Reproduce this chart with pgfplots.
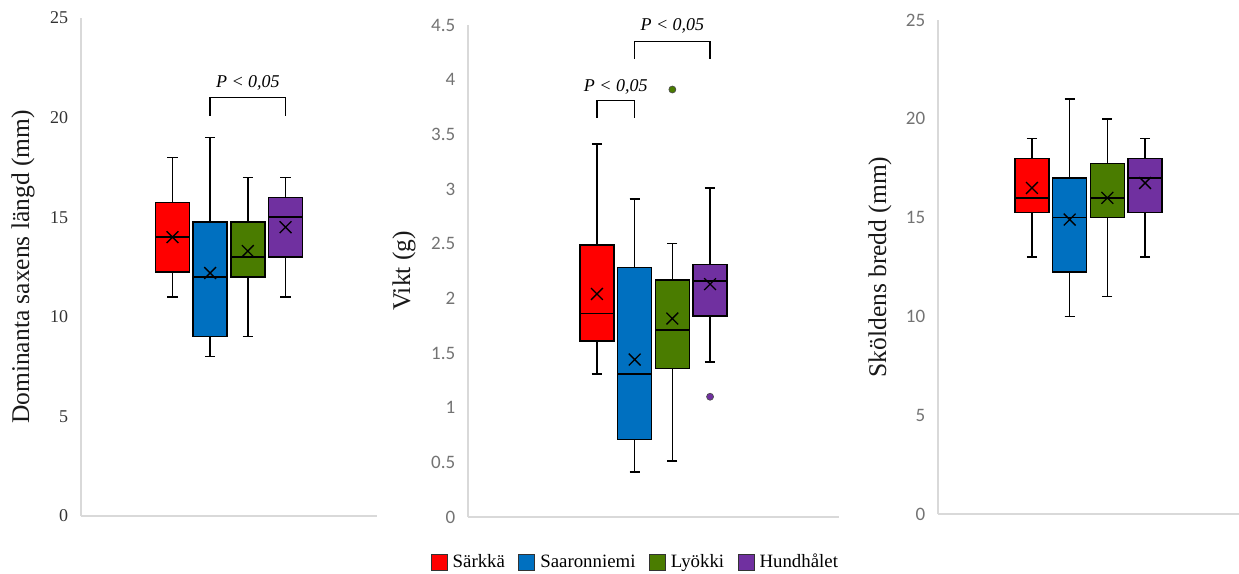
\documentclass[border=0pt]{standalone}
\usepackage{fontspec}
\setmainfont{Liberation Serif}
\newfontfamily\carlito{Carlito}
\usepackage{pgfplots}
\pgfplotsset{compat=1.18}
\usepgfplotslibrary{statistics}
\definecolor{cR}{HTML}{FF0000}
\definecolor{cB}{HTML}{0070C0}
\definecolor{cG}{HTML}{4A7C00}
\definecolor{cP}{HTML}{7030A0}
\definecolor{axl}{HTML}{D9D9D9}
\pgfplotsset{
 mybase/.style={
  scale only axis, anchor=south west,
  axis lines=left, axis line style={-, draw=axl, line width=0.9pt},
  xtick=\empty, major tick length=0pt,
  clip=false,
  boxplot/draw direction=y,
  boxplot/box extend=0.9, boxplot/whisker extend=0.27,
  every axis y label/.style={rotate=90, anchor=center, font=\fontsize{15.3pt}{16pt}\selectfont, text=black!90},
  yticklabel style={anchor=east, inner sep=0pt, xshift=-7.5pt},
  /pgf/number format/assume math mode=true,
 },
 bx/.style={draw=black, line width=0.9pt, fill=#1, solid},
 mn/.style={only marks, mark=x, mark size=5pt, line width=0.8pt, black, forget plot},
 br/.style={black, line width=0.9pt, forget plot},
}
\newcommand{\ptxt}{\itshape\fontsize{10.8pt}{12pt}\selectfont}
\begin{document}
\begin{tikzpicture}
% ---------- Panel 1
\begin{axis}[mybase, at={(48.6pt,34.2pt)}, width=177.6pt, height=298.8pt,
  xmin=-1.425, xmax=6.425, ymin=0, ymax=25, ytick={0,5,...,25},
  yticklabel style={text=black!80, font=\fontsize{10.8pt}{12pt}\selectfont},
  ylabel={Dominanta saxens längd (mm)},
  ylabel style={at={(axis description cs:-0.196,0.5)}}]
\addplot[bx=cR, forget plot, boxplot prepared={draw position=1, lower whisker=11, lower quartile=12.25, median=14, upper quartile=15.75, upper whisker=18}] coordinates {};
\addplot[bx=cB, forget plot, boxplot prepared={draw position=2, lower whisker=8, lower quartile=9, median=12, upper quartile=14.75, upper whisker=19}] coordinates {};
\addplot[bx=cG, forget plot, boxplot prepared={draw position=3, lower whisker=9, lower quartile=12, median=13, upper quartile=14.75, upper whisker=17}] coordinates {};
\addplot[bx=cP, forget plot, boxplot prepared={draw position=4, lower whisker=11, lower quartile=13, median=15, upper quartile=16, upper whisker=17}] coordinates {};
\addplot[mn] coordinates {(1,14) (2,12.2) (3,13.3) (4,14.5)};
\addplot[br] coordinates {(2,20.1) (2,21) (4,21) (4,20.1)};
\node[font=\ptxt] at (axis cs:3,21.75) {P < 0,05};
\end{axis}
% ---------- Panel 2
\begin{axis}[mybase, at={(280.8pt,33.6pt)}, width=222.6pt, height=295.2pt,
  xmin=-2.42, xmax=7.42, ymin=0, ymax=4.5, ytick={0,0.5,...,4.5},
  yticklabel style={text=black!55, font=\carlito\fontsize{11.4pt}{12pt}\selectfont},
  ylabel={Vikt (g)},
  ylabel style={at={(axis description cs:-0.1725,0.5)}},
  legend image code/.code={\draw[#1] (0pt,-4.8pt) rectangle (9.6pt,4.8pt);},
  legend style={draw=none, fill=none, legend columns=4, at={(0.4528,-0.0915)}, anchor=center,
    font=\rmfamily\fontsize{11.3pt}{12pt}\selectfont,
    /tikz/every odd column/.append style={column sep=1pt},
    /tikz/every even column/.append style={column sep=6pt}},
  legend cell align=left]
\addplot[bx=cR, forget plot, boxplot prepared={draw position=1, lower whisker=1.31, lower quartile=1.61, median=1.86, upper quartile=2.49, upper whisker=3.41}] coordinates {};
\addplot[bx=cB, forget plot, boxplot prepared={draw position=2, lower whisker=0.41, lower quartile=0.71, median=1.31, upper quartile=2.28, upper whisker=2.91}] coordinates {};
\addplot[bx=cG, forget plot, boxplot prepared={draw position=3, lower whisker=0.51, lower quartile=1.36, median=1.71, upper quartile=2.17, upper whisker=2.50}] coordinates {};
\addplot[bx=cP, forget plot, boxplot prepared={draw position=4, lower whisker=1.42, lower quartile=1.84, median=2.16, upper quartile=2.31, upper whisker=3.01}] coordinates {};
\addplot[mn] coordinates {(1,2.04) (2,1.44) (3,1.815) (4,2.13)};
\addplot[only marks, mark=*, mark size=2.1pt, draw=black!70, fill=cG, forget plot] coordinates {(3,3.91)};
\addplot[only marks, mark=*, mark size=2.1pt, draw=black!70, fill=cP, forget plot] coordinates {(4,1.10)};
\addplot[br] coordinates {(1,3.65) (1,3.81) (2,3.81) (2,3.65)};
\addplot[br] coordinates {(2,4.19) (2,4.35) (4,4.35) (4,4.19)};
\node[font=\ptxt] at (axis cs:1.5,3.93) {P < 0,05};
\node[font=\ptxt] at (axis cs:3,4.49) {P < 0,05};
\addlegendimage{fill=cR, draw=black!80, line width=0.6pt}
\addlegendentry{Särkkä}
\addlegendimage{fill=cB, draw=black!80, line width=0.6pt}
\addlegendentry{Saaronniemi}
\addlegendimage{fill=cG, draw=black!80, line width=0.6pt}
\addlegendentry{Lyökki}
\addlegendimage{fill=cP, draw=black!80, line width=0.6pt}
\addlegendentry{Hundhålet}
\end{axis}
% ---------- Panel 3
\begin{axis}[mybase, at={(562.8pt,35.4pt)}, width=180.6pt, height=296.4pt,
  xmin=-1.49, xmax=6.49, ymin=0, ymax=25, ytick={0,5,...,25},
  yticklabel style={text=black!55, font=\carlito\fontsize{11.4pt}{12pt}\selectfont},
  ylabel={Sköldens bredd (mm)},
  ylabel style={at={(axis description cs:-0.193,0.5)}}]
\addplot[bx=cR, forget plot, boxplot prepared={draw position=1, lower whisker=13, lower quartile=15.25, median=16, upper quartile=18, upper whisker=19}] coordinates {};
\addplot[bx=cB, forget plot, boxplot prepared={draw position=2, lower whisker=10, lower quartile=12.25, median=15, upper quartile=17, upper whisker=21}] coordinates {};
\addplot[bx=cG, forget plot, boxplot prepared={draw position=3, lower whisker=11, lower quartile=15, median=16, upper quartile=17.75, upper whisker=20}] coordinates {};
\addplot[bx=cP, forget plot, boxplot prepared={draw position=4, lower whisker=13, lower quartile=15.25, median=17, upper quartile=18, upper whisker=19}] coordinates {};
\addplot[mn] coordinates {(1,16.5) (2,14.9) (3,16.0) (4,16.75)};
\end{axis}
\pgfresetboundingbox
\path[use as bounding box] (0pt,0pt) rectangle (743.4pt,343.8pt);
\end{tikzpicture}
\end{document}
